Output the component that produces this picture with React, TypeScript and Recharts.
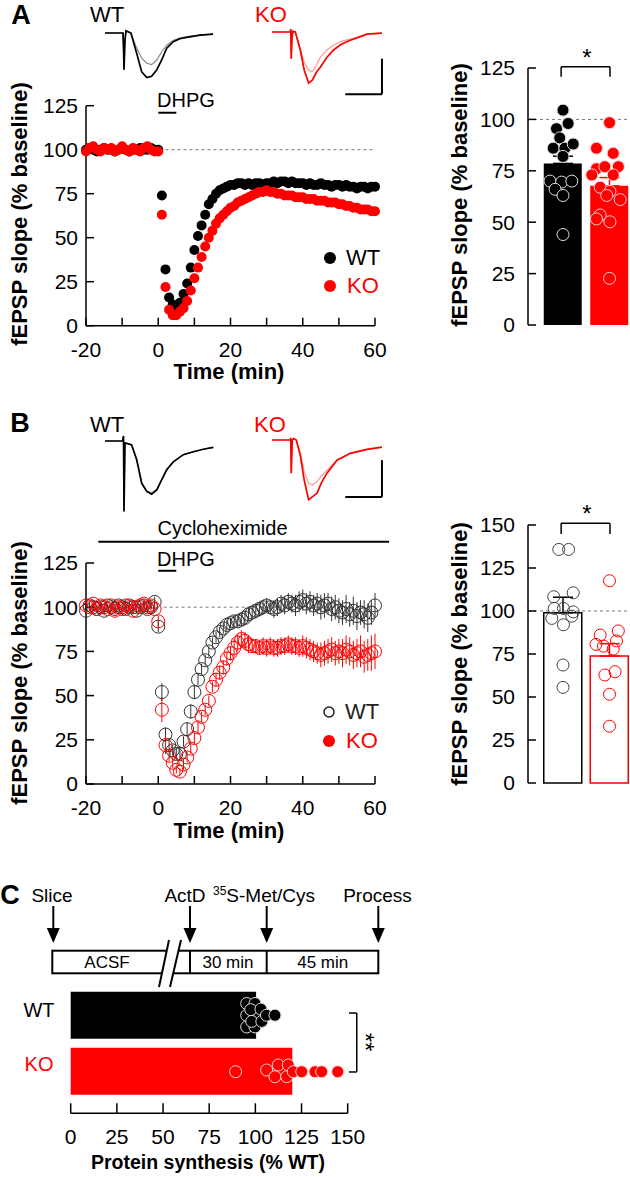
import React from 'react';
import {
  ScatterChart, Scatter, XAxis, YAxis, ReferenceLine, ErrorBar,
  ComposedChart, Bar, Cell, LineChart, Line,
} from 'recharts';

const RED = '#ff0000';
const FONT = '"Liberation Sans", Arial, Helvetica, sans-serif';

// ---------- Time-course data (minutes) ----------
const timeMin = [-20,-19,-18,-17,-16,-15,-14,-13,-12,-11,-10,-9,-8,-7,-6,-5,-4,-3,-2,-1,0,
  1,2,3,4,5,6,7,8,9,10,11,12,13,14,15,16,17,18,19,20,21,22,23,24,25,26,27,28,29,30,
  31,32,33,34,35,36,37,38,39,40,41,42,43,44,45,46,47,48,49,50,51,52,53,54,55,56,57,58,59,60];

// Panel A (fEPSP slope, % baseline)
const aWtSlope = [100,101,100,99,100,101,100,100,99,100,101,100,99,100,100,101,100,100,101,100,100,
  74,32,16,12,11,13,18,24,33,43, 51,57,63,69,72,75,77,78,79,80, 80,81,81,80,81,80,81,81,80,81,
  81,82,81,82,82,81,82,81,81,81, 80,81,80,80,81,80,80,79,80,80, 79,80,79,79,78,79,79,78,79,79];
const aKoSlope = [99,101,102,100,99,101,100,101,99,100,102,100,99,101,100,99,101,102,100,99,99,
  63,22,9,6,6,8,10,14,20,27, 33,39,45,50,54,58,61,63,65,67, 68,70,71,72,73,74,75,76,76,77,
  76,76,75,75,74,74,74,73,73,73, 72,72,72,71,71,71,70,70,70,69, 69,68,68,67,67,66,66,66,65,65];

// Panel B (cycloheximide)
const bWtSlope = [98,101,100,99,100,98,101,100,99,101,100,99,101,100,98,100,101,99,100,103,89,
  52,28,22,19,17,17,24,31,41,52, 59,65,70,75,80,83,86,88,90,91, 92,92,93,94,96,97,98,99,100,101,
  100,99,100,102,101,103,102,101,103,104, 102,103,101,102,100,101,102,99,100,98, 97,99,96,98,95,97,96,94,97,101];
const bWtErr = [2,2,2,1,2,2,1,2,2,2,1,2,2,2,1,2,2,2,2,3,3,
  5,4,3,3,3,3,3,4,4,4, 3,3,3,3,3,3,3,3,3,3, 3,3,4,4,4,4,4,4,4,4,
  4,5,5,5,5,5,5,6,6,6, 6,6,6,6,7,7,6,7,7,7, 7,8,7,8,8,7,8,8,7,7];
const bKoSlope = [101,100,102,99,101,100,99,101,98,100,99,101,100,98,100,101,102,100,101,99,92,
  42,22,16,12,8,7,11,15,20,26, 32,38,42,47,55,59,63,66,71,74, 77,80,82,81,79,78,78,77,78,77,
  78,77,77,78,78,79,78,78,77,78, 77,76,75,74,73,74,75,76,74,75, 74,76,75,73,74,75,72,73,74,75];
const bKoErr = [2,2,2,2,2,2,2,2,2,2,2,2,2,2,2,2,2,2,2,2,3,
  7,5,3,3,2,2,3,3,3,3, 3,3,3,3,3,4,4,4,4,4, 5,5,5,5,5,4,4,4,5,5,
  5,5,5,5,5,5,5,5,5,6, 6,6,6,6,7,7,7,7,7,7, 8,8,8,8,8,9,9,9,10,10];

// ---------- Bar summaries ----------
const barGroups = ['WT', 'KO'];
const aBarMeans = [78.6, 67.7];
const aBarErr = [3.5, 4];
const aWtX = [1.0,1.11,0.86,0.93,0.79,1.04,1.22,1.0,0.72,0.97,1.19,0.83,1.0,1.0];
const aWtY = [104.5,98,95.5,91,86,86,88,82,70,69.5,70,66,63,44];
const aKoX = [2.0,1.72,2.08,1.72,1.9,2.19,1.62,2.08,1.8,2.01,2.23,1.94,1.8,1.72,2.01,2.0];
const aKoY = [98.4,86,83.5,76,77,77,73,73,67,65,61,63,53.5,51.6,50.2,22.7];

const bBarMeans = [99, 73.8];
const bBarErr = [9, 7.2];
const bWtX = [0.91,1.12,0.8,1.22,0.81,1.01,1.22,0.76,1.01,1.19,1.0,1.0];
const bWtY = [135.8,135.8,108.3,110.6,101.5,101.5,99.5,95.7,92,97,68.6,55.6];
const bKoX = [2.0,1.8,2.19,1.71,1.87,2.15,2.08,1.9,2.12,2.0,2.0];
const bKoY = [117.6,86,88.4,80.6,79.6,82.6,77.9,62.8,64.7,51.6,33];

// Panel C protein synthesis (% WT); row position 1 = WT, 2 = KO (jitter around it)
const cMeans = [100.4, 120];
const cWtV = [95.3,99.8,95.3,100.5,95.3,99.8,97.5,98,103,103.5,106,110.6];
const cWtRow = [0.78,0.78,0.99,0.99,1.2,1.2,0.89,1.1,0.88,1.1,0.99,0.99];
const cKoV = [89.3,106.1,112.4,110.6,117.8,117,120.5,125.1,132.3,135.9,144.6];
const cKoRow = [2.0,1.97,1.88,2.09,1.88,2.09,2.0,2.0,2.0,2.0,2.0];

// ---------- Example traces (ms, mV) ----------
const aWtTraceT = [0,2.43,2.5,2.57,2.7,2.84,3.5,4.28,4.96,5.64,6.3,7.0,7.66,8.34,9.23,10.1,11.04,12.84,14.6];
const aWtTracePost = [0,0,-0.2,-0.51,-0.1,0.03,0,-0.28,-0.54,-0.62,-0.6,-0.51,-0.375,-0.21,-0.12,-0.08,-0.06,-0.03,-0.015];
const aWtTracePre = [0,0,-0.2,-0.51,-0.1,0.03,0,-0.21,-0.35,-0.42,-0.44,-0.375,-0.26,-0.17,-0.1,-0.07,-0.05,-0.03,-0.015];
const aKoTraceT = [0,2.47,2.54,2.6,2.7,2.8,3.15,3.82,4.36,4.95,5.45,6.0,6.53,7.43,8.32,9.36,10.58,11.66,12.84,14.86];
const aKoTracePost = [0,0,0.04,-0.37,-0.1,0.01,0,-0.25,-0.53,-0.71,-0.67,-0.56,-0.49,-0.35,-0.25,-0.17,-0.115,-0.075,-0.03,-0.015];
const aKoTracePre = [0,0,0.04,-0.37,-0.1,0.01,0,-0.23,-0.42,-0.53,-0.55,-0.46,-0.35,-0.25,-0.18,-0.13,-0.1,-0.075,-0.03,-0.015];
const bWtTraceT = [0,2.39,2.5,2.57,2.7,2.84,3.6,4.28,4.96,5.64,6.3,7.0,7.66,8.34,9.23,10.58,11.93,13.28,14.64];
const bWtTracePost = [0,0,0.07,-0.98,-0.03,-0.03,-0.055,-0.26,-0.59,-0.7,-0.74,-0.68,-0.54,-0.4,-0.29,-0.19,-0.15,-0.115,-0.088];
const bWtTracePre = [0,0,0.07,-0.98,-0.03,-0.03,-0.055,-0.25,-0.57,-0.69,-0.72,-0.67,-0.53,-0.4,-0.29,-0.19,-0.15,-0.115,-0.088];
const bKoTraceT = [0,2.47,2.54,2.6,2.74,2.92,3.28,3.82,4.36,4.95,5.45,6.08,6.66,7.43,8.78,10.58,12.84,14.86];
const bKoTracePost = [0,0,0.03,-0.46,0,0.02,0,-0.21,-0.56,-0.83,-0.79,-0.74,-0.6,-0.46,-0.28,-0.185,-0.13,-0.1];
const bKoTracePre = [0,0,0.03,-0.46,0,0.02,0,-0.17,-0.44,-0.6,-0.625,-0.58,-0.5,-0.42,-0.28,-0.185,-0.13,-0.1];

// ---------- builders ----------
const series = (vals: number[], errs?: number[]) =>
  timeMin.map((t, i) => ({ t, v: vals[i], e: errs ? errs[i] : 0 }));
const dots = (xs: number[], ys: number[]) => xs.map((x, i) => ({ x, v: ys[i] }));
const traceRows = (t: number[], a: number[], b: number[]) => t.map((tt, i) => ({ t: tt, a: a[i], b: b[i] }));

const aWt = series(aWtSlope);
const aKo = series(aKoSlope);
const bWt = series(bWtSlope, bWtErr);
const bKo = series(bKoSlope, bKoErr);
const aBars = barGroups.map((g, i) => ({ g, v: aBarMeans[i] }));
const bBars = barGroups.map((g, i) => ({ g, v: bBarMeans[i] }));
const cBars = barGroups.map((g, i) => ({ g, v: cMeans[i] }));
const cWtDots = cWtV.map((v, i) => ({ v, y: cWtRow[i] }));
const cKoDots = cKoV.map((v, i) => ({ v, y: cKoRow[i] }));

// ---------- styles ----------
const axisLine = { stroke: '#000', strokeWidth: 1.5 };
const tickFont = { fontSize: 21, fill: '#000', fontFamily: FONT };

const filledDot = (r: number, fill: string, stroke = 'none') => (p: any) =>
  p.cx == null ? <g /> : <circle cx={p.cx} cy={p.cy} r={r} fill={fill} stroke={stroke} strokeWidth={1} />;
const openDot = (r: number, stroke: string) => (p: any) =>
  p.cx == null ? <g /> : <circle cx={p.cx} cy={p.cy} r={r} fill="none" stroke={stroke} strokeWidth={1} />;
const noDot = () => <g />;

const Txt = ({ x, y, children, size = 20, bold = false, color = '#000', rotate = 0 }: any) => (
  <div style={{
    position: 'absolute', left: x, top: y, transform: `translate(-50%,-50%) rotate(${rotate}deg)`,
    fontSize: size, fontWeight: bold ? 700 : 400, color, whiteSpace: 'nowrap', lineHeight: 1,
  }}>{children}</div>
);

const LegendItem = ({ x, y, label, color, open }: any) => (
  <>
    <svg style={{ position: 'absolute', left: x - 7, top: y - 7 }} width={14} height={14}>
      <circle cx={7} cy={7} r={open ? 5 : 6} fill={open ? 'none' : color} stroke={open ? color : 'none'} strokeWidth={1.5} />
    </svg>
    <Txt x={x + 33} y={y} size={22} color={color}>{label}</Txt>
  </>
);

const Trace = ({ left, top, rows, c1, c2, bar }: any) => (
  <div style={{ position: 'absolute', left, top }}>
    <LineChart width={111} height={90} data={rows} margin={{ top: 0, right: 0, bottom: 0, left: 0 }}>
      <XAxis type="number" dataKey="t" domain={[0, 15]} hide />
      <YAxis type="number" domain={[-1.125, 0.125]} hide />
      <Line type="linear" dataKey="b" stroke={c2} strokeWidth={1.2} dot={false} isAnimationActive={false} />
      <Line type="linear" dataKey="a" stroke={c1} strokeWidth={1.7} dot={false} isAnimationActive={false} />
      {bar && <ReferenceLine segment={[{ x: 14.86, y: bar[0] }, { x: 14.86, y: bar[1] }]} stroke="#000" strokeWidth={2} ifOverflow="visible" />}
      {bar && <ReferenceLine segment={[{ x: 9.9, y: bar[1] }, { x: 14.86, y: bar[1] }]} stroke="#000" strokeWidth={2} ifOverflow="visible" />}
    </LineChart>
  </div>
);

const TimeCourse = ({ top, wt, ko, open }: any) => (
  <div style={{ position: 'absolute', left: 0, top }}>
    <ScatterChart width={400} height={open ? 450 : 400}
      margin={open ? { top: 163, right: 25, bottom: 36, left: 0 } : { top: 105.7, right: 25, bottom: 44.3, left: 0 }}>
      <XAxis type="number" dataKey="t" domain={[-20, 60]} ticks={[-20, -10, 0, 10, 20, 30, 40, 50, 60]} interval={0}
        tickFormatter={(v: number) => (v % 20 === 0 ? String(v) : '')} tickSize={-8} tickMargin={24} height={30}
        axisLine={axisLine} tickLine={axisLine} tick={tickFont} />
      <YAxis type="number" dataKey="v" domain={[0, 125]} ticks={[0, 25, 50, 75, 100, 125]} interval={0} width={86}
        tickSize={-8} tickMargin={16} axisLine={axisLine} tickLine={axisLine} tick={tickFont} allowDataOverflow />
      <ReferenceLine segment={[{ x: open ? 1.5 : 2, y: 100 }, { x: 60, y: 100 }]} stroke="#777" strokeDasharray="3 3" ifOverflow="visible" />
      <ReferenceLine segment={[{ x: 0, y: open ? 120.6 : 121 }, { x: 5, y: open ? 120.6 : 121 }]} stroke="#000" strokeWidth={2} ifOverflow="visible" />
      {open && <ReferenceLine segment={[{ x: -16.6, y: 137 }, { x: 63.9, y: 137 }]} stroke="#000" strokeWidth={2} ifOverflow="visible" />}
      {open ? (
        <Scatter data={wt} shape={openDot(6.5, '#333')} isAnimationActive={false}>
          <ErrorBar dataKey="e" direction="y" width={0} stroke="#333" strokeWidth={1} />
        </Scatter>
      ) : (
        <Scatter data={wt} shape={filledDot(5, '#000')} isAnimationActive={false} />
      )}
      {open ? (
        <Scatter data={ko} shape={openDot(6.5, RED)} isAnimationActive={false}>
          <ErrorBar dataKey="e" direction="y" width={0} stroke={RED} strokeWidth={1} />
        </Scatter>
      ) : (
        <Scatter data={ko} shape={filledDot(5, RED)} isAnimationActive={false} />
      )}
    </ScatterChart>
  </div>
);

const PAD = { left: 11.75, right: 0 };

const BarPanel = ({ top, height, mTop, mBottom, max, ticks, bars, errs, wtD, koD, open, brY }: any) => (
  <div style={{ position: 'absolute', left: 400, top }}>
    <ComposedChart width={232.75} height={height} data={bars} margin={{ top: mTop, right: 0, bottom: mBottom, left: 0 }}>
      <XAxis xAxisId="cat" type="category" dataKey="g" hide padding={PAD} />
      <XAxis xAxisId="num" type="number" dataKey="x" domain={[0.5, 2.5]} hide padding={PAD} />
      <YAxis type="number" dataKey="v" domain={[0, max]} ticks={ticks} interval={0} width={128}
        tickSize={-8} tickMargin={21} axisLine={axisLine} tickLine={axisLine} tick={tickFont} />
      <ReferenceLine xAxisId="cat" y={100} stroke="#777" strokeDasharray="3 3" />
      <Bar xAxisId="cat" dataKey="v" barSize={38} isAnimationActive={false}>
        {bars.map((b: any, i: number) => (
          <Cell key={b.g} fill={open ? '#fff' : (i === 0 ? '#000' : RED)}
            stroke={open ? (i === 0 ? '#000' : RED) : 'none'} strokeWidth={1.5} />
        ))}
      </Bar>
      <Scatter xAxisId="num" data={[{ x: 1, v: bars[0].v, eb: [0, errs[0]] }]} shape={noDot} isAnimationActive={false}>
        <ErrorBar dataKey="eb" direction="y" width={10} stroke="#000" strokeWidth={1.5} />
      </Scatter>
      <Scatter xAxisId="num" data={[{ x: 2, v: bars[1].v, eb: [0, errs[1]] }]} shape={noDot} isAnimationActive={false}>
        <ErrorBar dataKey="eb" direction="y" width={10} stroke={RED} strokeWidth={1.5} />
      </Scatter>
      <Scatter xAxisId="num" data={wtD} shape={open ? openDot(6, '#444') : filledDot(6, '#000', '#ddd')} isAnimationActive={false} />
      <Scatter xAxisId="num" data={koD} shape={open ? openDot(6, RED) : filledDot(6, RED, '#ffd0d0')} isAnimationActive={false} />
      <ReferenceLine xAxisId="num" segment={[{ x: 0.96, y: brY[0] }, { x: 2.01, y: brY[0] }]} stroke="#000" strokeWidth={1.5} ifOverflow="visible" />
      <ReferenceLine xAxisId="num" segment={[{ x: 0.96, y: brY[0] }, { x: 0.96, y: brY[1] }]} stroke="#000" strokeWidth={1.5} ifOverflow="visible" />
      <ReferenceLine xAxisId="num" segment={[{ x: 2.01, y: brY[0] }, { x: 2.01, y: brY[1] }]} stroke="#000" strokeWidth={1.5} ifOverflow="visible" />
    </ComposedChart>
  </div>
);

const Arrow = ({ x }: any) => (
  <>
    <line x1={x} y1={26} x2={x} y2={50} stroke="#000" strokeWidth={2} />
    <polygon points={`${x - 6.5},48 ${x + 6.5},48 ${x},63`} fill="#000" />
  </>
);

const CPAD = { top: 2.85, bottom: 13.65 };

export default function App() {
  return (
    <div style={{ position: 'absolute', left: 0, top: 0, width: 630, height: 1177, fontFamily: FONT, background: '#fff', overflow: 'hidden' }}>
      {/* ---------- Panel A ---------- */}
      <Trace left={105} top={24} rows={traceRows(aWtTraceT, aWtTracePost, aWtTracePre)} c1="#000" c2="#888" />
      <Trace left={271.7} top={22.7} rows={traceRows(aKoTraceT, aKoTracePost, aKoTracePre)} c1={RED} c2="#ff9a9a" bar={[-0.37, -0.865]} />
      <TimeCourse top={0} wt={aWt} ko={aKo} />
      <BarPanel top={0} height={400} mTop={68} mBottom={75} max={125} ticks={[0, 25, 50, 75, 100, 125]}
        bars={aBars} errs={aBarErr} wtD={dots(aWtX, aWtY)} koD={dots(aKoX, aKoY)} brY={[125.6, 120.7]} />
      <Txt x={21} y={15} size={27} bold>A</Txt>
      <Txt x={107} y={15} size={22}>WT</Txt>
      <Txt x={271} y={15} size={22} color={RED}>KO</Txt>
      <Txt x={186} y={99.5} size={20}>DHPG</Txt>
      <Txt x={20} y={214} size={22} bold rotate={-90}>fEPSP slope (% baseline)</Txt>
      <Txt x={229} y={372} size={22} bold>Time (min)</Txt>
      <Txt x={460} y={195} size={22} bold rotate={-90}>fEPSP slope (% baseline)</Txt>
      <Txt x={587} y={58} size={24}>*</Txt>
      <LegendItem x={330} y={258} label="WT" color="#000" />
      <LegendItem x={330} y={286} label="KO" color={RED} />

      {/* ---------- Panel B ---------- */}
      <Trace left={105} top={432} rows={traceRows(bWtTraceT, bWtTracePost, bWtTracePre)} c1="#000" c2="#888" />
      <Trace left={271.7} top={431} rows={traceRows(bKoTraceT, bKoTracePost, bKoTracePre)} c1={RED} c2="#ff9a9a" bar={[-0.28, -0.79]} />
      <TimeCourse top={400} wt={bWt} ko={bKo} open />
      <BarPanel top={400} height={450} mTop={125} mBottom={67} max={150} ticks={[0, 25, 50, 75, 100, 125, 150]}
        bars={bBars} errs={bBarErr} wtD={dots(bWtX, bWtY)} koD={dots(bKoX, bKoY)} open brY={[151, 144.8]} />
      <Txt x={20} y={423} size={27} bold>B</Txt>
      <Txt x={107} y={425} size={22}>WT</Txt>
      <Txt x={270} y={425} size={22} color={RED}>KO</Txt>
      <Txt x={222.5} y={528} size={20}>Cycloheximide</Txt>
      <Txt x={186} y={558.5} size={20}>DHPG</Txt>
      <Txt x={20} y={673} size={22} bold rotate={-90}>fEPSP slope (% baseline)</Txt>
      <Txt x={229} y={831} size={22} bold>Time (min)</Txt>
      <Txt x={460} y={654} size={22} bold rotate={-90}>fEPSP slope (% baseline)</Txt>
      <Txt x={587} y={514} size={24}>*</Txt>
      <LegendItem x={329} y={711.5} label="WT" color="#222" open />
      <LegendItem x={329} y={741} label="KO" color={RED} />

      {/* ---------- Panel C timeline ---------- */}
      <svg style={{ position: 'absolute', left: 0, top: 880 }} width={420} height={115}>
        <rect x={52.3} y={70.7} width={326} height={22.6} fill="none" stroke="#000" strokeWidth={2} />
        <line x1={190} y1={70.7} x2={190} y2={93.3} stroke="#000" strokeWidth={2} />
        <line x1={266.7} y1={70.7} x2={266.7} y2={93.3} stroke="#000" strokeWidth={2} />
        <polygon points="159,107 169,60 181,60 170,107" fill="#fff" />
        <line x1={159} y1={107} x2={169} y2={60} stroke="#000" strokeWidth={2} />
        <line x1={170} y1={107} x2={181} y2={60} stroke="#000" strokeWidth={2} />
        <Arrow x={53.3} />
        <Arrow x={190} />
        <Arrow x={266.7} />
        <Arrow x={378.3} />
      </svg>
      <Txt x={10} y={895} size={27} bold>C</Txt>
      <Txt x={52} y={895} size={19}>Slice</Txt>
      <Txt x={185} y={895} size={19}>ActD</Txt>
      <Txt x={264} y={895} size={19}><span style={{ fontSize: 12, position: 'relative', top: -7 }}>35</span>S-Met/Cys</Txt>
      <Txt x={377.5} y={895} size={19}>Process</Txt>
      <Txt x={107} y={962} size={17}>ACSF</Txt>
      <Txt x={228} y={962} size={17}>30 min</Txt>
      <Txt x={322.7} y={962} size={17}>45 min</Txt>

      {/* ---------- Panel C bars ---------- */}
      <div style={{ position: 'absolute', left: 0, top: 960 }}>
        <ComposedChart layout="vertical" width={400} height={217} data={cBars}
          margin={{ top: 25, right: 52.3, bottom: 33.7, left: 70.7 }}>
          <XAxis type="number" dataKey="v" domain={[0, 150]} ticks={[0, 25, 50, 75, 100, 125, 150]} interval={0}
            tickSize={-10} tickMargin={25.7} height={30} axisLine={axisLine} tickLine={axisLine} tick={tickFont} />
          <YAxis yAxisId="cat" type="category" dataKey="g" hide padding={CPAD} />
          <YAxis yAxisId="num" type="number" dataKey="y" domain={[0.5, 2.5]} hide padding={CPAD} />
          <Bar yAxisId="cat" dataKey="v" barSize={47} isAnimationActive={false}>
            {cBars.map((b, i) => <Cell key={b.g} fill={i === 0 ? '#000' : RED} />)}
          </Bar>
          <Scatter yAxisId="num" data={cWtDots} shape={filledDot(6, '#000', '#ddd')} isAnimationActive={false} />
          <Scatter yAxisId="num" data={cKoDots} shape={filledDot(6, RED, '#ffd0d0')} isAnimationActive={false} />
          <ReferenceLine yAxisId="num" segment={[{ x: 154.9, y: 0.95 }, { x: 154.9, y: 2.005 }]} stroke="#000" strokeWidth={1.5} ifOverflow="visible" />
          <ReferenceLine yAxisId="num" segment={[{ x: 150.7, y: 0.95 }, { x: 154.9, y: 0.95 }]} stroke="#000" strokeWidth={1.5} ifOverflow="visible" />
          <ReferenceLine yAxisId="num" segment={[{ x: 150.7, y: 2.005 }, { x: 154.9, y: 2.005 }]} stroke="#000" strokeWidth={1.5} ifOverflow="visible" />
        </ComposedChart>
      </div>
      <Txt x={39} y={1010} size={20}>WT</Txt>
      <Txt x={39} y={1064} size={20} color={RED}>KO</Txt>
      <Txt x={365} y={1042} size={24} rotate={90}>**</Txt>
      <Txt x={208} y={1163} size={19.5} bold>Protein synthesis (% WT)</Txt>
    </div>
  );
}
